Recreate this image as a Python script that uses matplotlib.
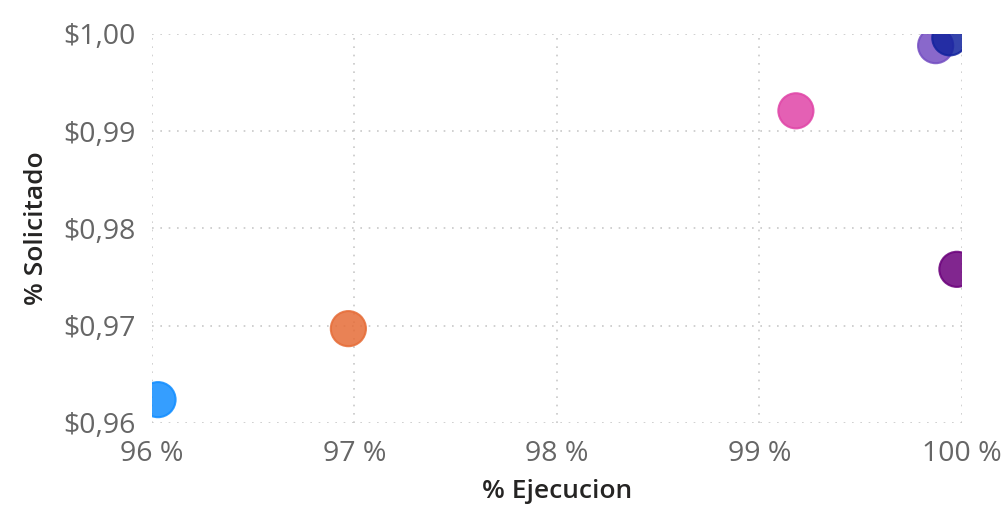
import matplotlib.pyplot as plt
from matplotlib.ticker import FuncFormatter

# data
ejecucion = [96.03, 96.97, 99.18, 99.975, 99.87, 99.94]      # % Ejecucion
solicitado = [0.9624, 0.9697, 0.9921, 0.9758, 0.9988, 0.9996]  # % Solicitado
colors = ['#118DFF', '#E66C37', '#E044A7', '#6B007B', '#744EC2', '#12239E']

plt.rcParams['font.family'] = ['Open Sans', 'DejaVu Sans']

fig = plt.figure(figsize=(10.01, 5.07), dpi=100)
ax = fig.add_axes([0.1518, 0.1657, 0.8092, 0.7673])

ax.scatter(ejecucion, solicitado, s=640, c=colors, alpha=0.85,
           edgecolors=colors, linewidths=1.5, zorder=3)

ax.set_xlim(96, 100)
ax.set_ylim(0.96, 1.00)
ax.set_xticks([96, 97, 98, 99, 100])
ax.set_yticks([0.96, 0.97, 0.98, 0.99, 1.00])
ax.xaxis.set_major_formatter(FuncFormatter(lambda v, p: '%d %%' % round(v)))
ax.yaxis.set_major_formatter(FuncFormatter(lambda v, p: ('$%.2f' % v).replace('.', ',')))

for s in ax.spines.values():
    s.set_visible(False)
ax.grid(True, color='#C8C8C8', linestyle=(0, (1, 4)), linewidth=1.2)
ax.set_axisbelow(True)
ax.tick_params(length=0, labelsize=20.5, colors='#666666', pad=12)
ax.tick_params(axis='x', pad=12)

ax.set_xlabel('% Ejecucion', fontsize=19, color='#252423', fontweight='semibold', labelpad=8)
ax.set_ylabel('% Solicitado', fontsize=19, color='#252423', fontweight='semibold', labelpad=10)

plt.savefig('out.png', dpi=100)
